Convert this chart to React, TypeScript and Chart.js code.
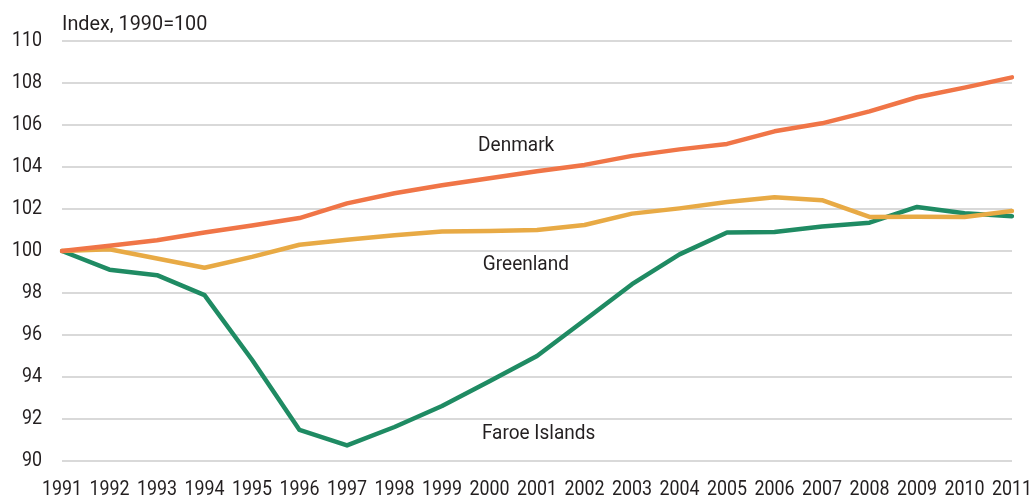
import React, { useEffect, useRef } from "react";
import { Chart, registerables } from "chart.js";

Chart.register(...registerables);

const years = ["1991","1992","1993","1994","1995","1996","1997","1998","1999","2000","2001","2002","2003","2004","2005","2006","2007","2008","2009","2010","2011"];
const denmark = [100, 100.25, 100.51, 100.88, 101.21, 101.57, 102.27, 102.75, 103.13, 103.46, 103.8, 104.1, 104.53, 104.84, 105.1, 105.7, 106.08, 106.65, 107.32, 107.78, 108.27];
const greenland = [100, 100.08, 99.64, 99.2, 99.72, 100.3, 100.54, 100.75, 100.93, 100.95, 101.0, 101.24, 101.78, 102.03, 102.33, 102.56, 102.42, 101.62, 101.63, 101.62, 101.9];
const faroe = [100, 99.11, 98.85, 97.9, 94.82, 91.48, 90.74, 91.62, 92.62, 93.8, 95.0, 96.7, 98.42, 99.84, 100.88, 100.9, 101.17, 101.35, 102.1, 101.8, 101.66];
const yTicks = [90, 92, 94, 96, 98, 100, 102, 104, 106, 108, 110];
const unitLabel = "Index, 1990=100";
const seriesLabels = [
  { text: "Denmark", x: 8.76, y: 104.98 },
  { text: "Greenland", x: 8.86, y: 99.35 },
  { text: "Faroe Islands", x: 8.84, y: 91.3 },
];

const FONT = "Roboto, 'Open Sans', sans-serif";
const TEXT = "#231f20";

function squeezedText(ctx: CanvasRenderingContext2D, t: string, x: number, y: number, align: "left" | "right" | "center", sx: number) {
  ctx.save();
  ctx.translate(x, y);
  ctx.scale(sx, 1);
  ctx.textAlign = align;
  ctx.fillText(t, 0, 0);
  ctx.restore();
}

const textPlugin = {
  id: "texts",
  afterDraw(chart: any) {
    const { ctx, scales, chartArea } = chart;
    ctx.save();
    ctx.fillStyle = TEXT;
    ctx.textBaseline = "middle";
    ctx.font = `21px ${FONT}`;
    for (const v of yTicks) {
      squeezedText(ctx, String(v), chartArea.left - 20, scales.y.getPixelForValue(v), "right", 0.85);
    }
    years.forEach((yr, i) => {
      squeezedText(ctx, yr, scales.x.getPixelForValue(i), chartArea.bottom + 29, "center", 0.85);
    });
    ctx.font = `20px ${FONT}`;
    for (const l of seriesLabels) {
      squeezedText(ctx, l.text, scales.x.getPixelForValue(l.x), scales.y.getPixelForValue(l.y), "left", 0.95);
    }
    squeezedText(ctx, unitLabel, chartArea.left, chartArea.top - 16, "left", 0.99);
    ctx.restore();
  },
};

export default function App() {
  const ref = useRef<HTMLCanvasElement>(null);
  useEffect(() => {
    if (!ref.current) return;
    const mk = (label: string, data: number[], color: string) => ({
      label, data, borderColor: color, backgroundColor: color, borderWidth: 4.5,
      pointRadius: 0, tension: 0, borderJoinStyle: "round" as const, borderCapStyle: "round" as const,
    });
    const chart = new Chart(ref.current, {
      type: "line",
      data: {
        labels: years,
        datasets: [
          mk("Denmark", denmark, "#f07547"),
          mk("Greenland", greenland, "#e8aa45"),
          mk("Faroe Islands", faroe, "#1f8b63"),
        ],
      },
      options: {
        responsive: false,
        animation: false,
        layout: { padding: { top: 41, right: 22, left: 0, bottom: 0 } },
        plugins: { legend: { display: false }, tooltip: { enabled: false } },
        scales: {
          x: {
            type: "category",
            offset: false,
            grid: { display: false, drawTicks: false },
            border: { display: false },
            ticks: { display: false },
            afterFit: (s: any) => { s.height = 37; s.paddingLeft = 0; s.paddingRight = 0; },
          },
          y: {
            min: 90,
            max: 110,
            afterBuildTicks: (s: any) => { s.ticks = yTicks.map((v) => ({ value: v })); },
            grid: { color: "#d9d9d9", lineWidth: 2, drawTicks: false },
            border: { display: false },
            ticks: { display: false },
            afterFit: (s: any) => { s.width = 62; s.paddingTop = 0; s.paddingBottom = 0; },
          },
        },
      },
      plugins: [textPlugin],
    });
    return () => chart.destroy();
  }, []);
  return (
    <div style={{ position: "fixed", left: 0, top: 0, width: 1034, height: 498, background: "#fff" }}>
      <canvas ref={ref} width={1034} height={498} style={{ display: "block" }} />
    </div>
  );
}
